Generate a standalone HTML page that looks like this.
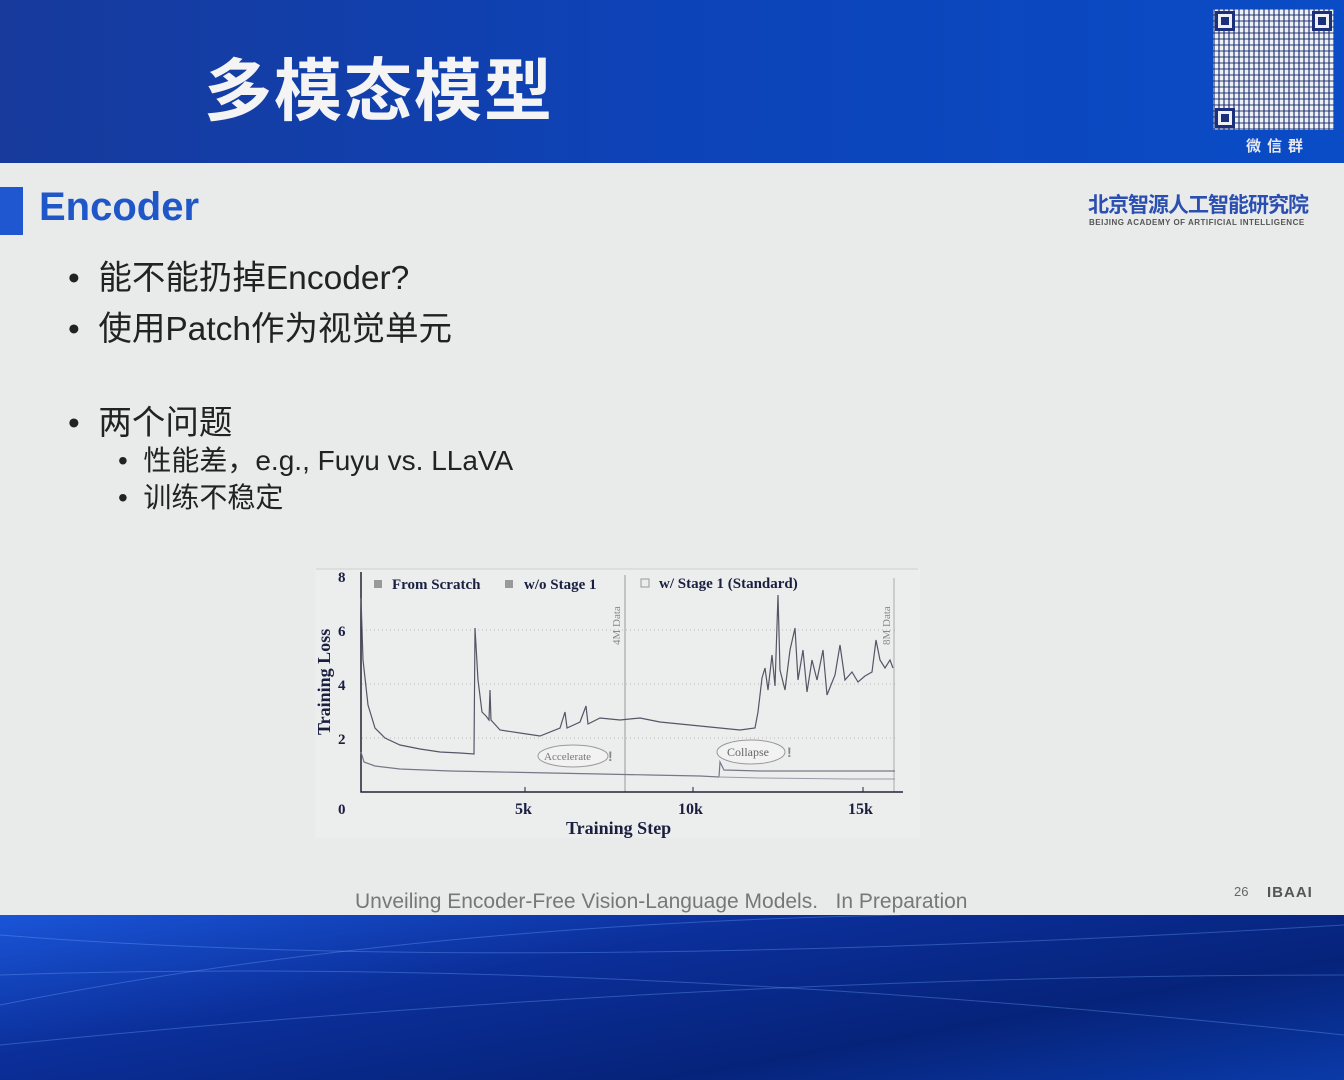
<!DOCTYPE html>
<html><head><meta charset="utf-8"><style>
*{margin:0;padding:0}
body{width:1344px;height:1080px;overflow:hidden;background:#e9ebeb;position:relative;font-family:"Liberation Sans","Noto Sans CJK SC",sans-serif}
.hdr{position:absolute;left:0;top:0;width:1344px;height:163px;background:linear-gradient(90deg,#173a9c 0%,#0d43b8 50%,#0a4cc6 100%)}
.title{position:absolute;left:204px;top:42px;font-size:68px;font-weight:bold;color:#f4f4f4;font-family:"Noto Sans CJK SC",sans-serif;letter-spacing:2px;line-height:88px}
.qr{position:absolute;left:1213px;top:9px;width:121px;height:121px;background:#eef0f2;
background-image:repeating-linear-gradient(90deg,rgba(20,40,110,.55) 0 2px,transparent 2px 5px),repeating-linear-gradient(0deg,rgba(20,40,110,.45) 0 2px,transparent 2px 6px)}
.fp{position:absolute;width:14px;height:14px;border:3px solid #1c2f7a;background:#eef0f2}
.fp i{position:absolute;left:3px;top:3px;width:8px;height:8px;background:#1c2f7a}
.bottom{position:absolute;left:0;top:915px;width:1344px;height:165px;background:linear-gradient(170deg,#1a55d8 0%,#0b2f9a 35%,#06237a 70%,#0a3aa8 100%)}
.bar{position:absolute;left:0;top:187px;width:23px;height:48px;background:#1f57d0}
.h2{position:absolute;left:39px;top:184px;font-size:40px;font-weight:bold;color:#1f57c8;line-height:46px}
.b{position:absolute;color:#222;font-family:"Liberation Sans","Noto Sans CJK SC",sans-serif}
.l1{font-size:33.5px;left:68px}
.l2{font-size:28px;left:118px}
</style></head><body>
<div class="hdr"></div>
<div class="title">多模态模型</div>
<div class="qr">
<div class="fp" style="left:2px;top:2px"><i></i></div>
<div class="fp" style="right:2px;top:2px"><i></i></div>
<div class="fp" style="left:2px;bottom:2px"><i></i></div>
</div>
<div style="position:absolute;left:1246px;top:135px;color:#e8e8f0;font-size:15px;font-weight:bold;letter-spacing:6px;font-family:'Noto Sans CJK SC',sans-serif">微信群</div>

<div class="bar"></div>
<div class="h2">Encoder</div>
<div style="position:absolute;left:1088px;top:191px;color:#2b4fb0;font-size:21px;line-height:26px;font-weight:bold;font-family:'Noto Sans CJK SC',sans-serif;letter-spacing:-1px">北京智源人工智能研究院</div>
<div style="position:absolute;left:1089px;top:218px;color:#555;font-size:8px;font-weight:bold;letter-spacing:.5px">BEIJING ACADEMY OF ARTIFICIAL INTELLIGENCE</div>

<div class="b l1" style="top:250px">•&nbsp; 能不能扔掉Encoder?</div>
<div class="b l1" style="top:301px">•&nbsp; 使用Patch作为视觉单元</div>
<div class="b l1" style="top:395px">•&nbsp; 两个问题</div>
<div class="b l2" style="top:439px">•&nbsp; 性能差，e.g., Fuyu vs. LLaVA</div>
<div class="b l2" style="top:476px">•&nbsp; 训练不稳定</div>

<svg style="position:absolute;left:310px;top:560px" width="620" height="290" viewBox="310 560 620 290">
<rect x="315" y="568" width="605" height="270" fill="#eceeee"/>
<line x1="316" y1="569" x2="918" y2="569" stroke="#ccc"/>
<g stroke="#bbb" stroke-dasharray="1 3">
<line x1="362" y1="630" x2="895" y2="630"/><line x1="362" y1="684" x2="895" y2="684"/><line x1="362" y1="738" x2="895" y2="738"/>
</g>
<line x1="625" y1="575" x2="625" y2="792" stroke="#999"/>
<line x1="894" y1="578" x2="894" y2="792" stroke="#aaa"/>
<polyline fill="none" stroke="#223" stroke-width="1.5" points="361,572 361,792 903,792"/>
<g stroke="#223"><line x1="525" y1="792" x2="525" y2="787"/><line x1="693" y1="792" x2="693" y2="787"/><line x1="863" y1="792" x2="863" y2="787"/></g>
<g font-family="Liberation Serif,serif" font-weight="bold" fill="#1a1f40">
<text x="338" y="582" font-size="15">8</text><text x="338" y="636" font-size="15">6</text><text x="338" y="690" font-size="15">4</text><text x="338" y="744" font-size="15">2</text>
<text x="338" y="814" font-size="15">0</text><text x="515" y="814" font-size="16">5k</text><text x="678" y="814" font-size="16">10k</text><text x="848" y="814" font-size="16">15k</text>
<text x="566" y="834" font-size="18">Training Step</text>
<text transform="translate(330,735) rotate(-90)" font-size="18">Training Loss</text>
<text x="392" y="589" font-size="15">From Scratch</text><text x="524" y="589" font-size="15">w/o Stage 1</text><text x="659" y="588" font-size="15">w/ Stage 1 (Standard)</text>
</g>
<g fill="#999"><rect x="374" y="580" width="8" height="8"/><rect x="505" y="580" width="8" height="8"/><rect x="641" y="579" width="8" height="8" fill="none" stroke="#999"/></g>
<g font-family="Liberation Serif,serif" fill="#888" font-size="11"><text transform="translate(620,645) rotate(-90)">4M Data</text><text transform="translate(890,645) rotate(-90)">8M Data</text></g>
<polyline fill="none" stroke="#556" stroke-width="1.2" points="361,598 363,660 368,705 375,728 385,738 400,745 420,749 440,752 460,753 474,754 475,628 478,680 482,712 486,716 489,720 490,690 491,720 500,730 520,733 540,736 560,728 565,712 567,728 580,722 586,706 588,724 600,718 620,720 640,718 660,722 680,724 700,726 720,728 740,730 755,728 758,712 762,678 765,668 768,690 772,655 775,686 778,595 780,670 785,690 790,650 795,628 798,680 803,650 807,692 812,660 817,680 823,650 827,695 835,675 840,645 845,680 852,672 858,682 865,676 872,672 876,640 880,660 885,668 890,660 893,668"/>
<polyline fill="none" stroke="#778" stroke-width="1.2" points="361,752 364,762 375,766 400,769 450,771 500,772 550,773 600,774 650,775 700,776 719,777 720,762 724,770 760,771 800,771 850,771 895,771"/>
<polyline fill="none" stroke="#99a" stroke-width="1" points="720,777 760,778 850,779 895,779"/>
<ellipse cx="573" cy="756" rx="35" ry="11" fill="#f2f2f2" stroke="#999"/>
<text x="544" y="760" font-family="Liberation Serif,serif" font-size="11" fill="#777">Accelerate</text>
<text x="608" y="761" font-family="Liberation Sans" font-weight="bold" font-size="14" fill="#888">!</text>
<ellipse cx="751" cy="752" rx="34" ry="12" fill="#f2f2f2" stroke="#999"/>
<text x="727" y="756" font-family="Liberation Serif,serif" font-size="12" fill="#666">Collapse</text>
<text x="787" y="757" font-family="Liberation Sans" font-weight="bold" font-size="14" fill="#888">!</text>
</svg>

<div style="position:absolute;left:355px;top:890px;color:#777;font-size:21px">Unveiling Encoder-Free Vision-Language Models.&nbsp;&nbsp; In Preparation</div>
<div style="position:absolute;left:1234px;top:884px;color:#666;font-size:13px">26</div>
<div style="position:absolute;left:1267px;top:884px;color:#555;font-size:15px;font-weight:bold;letter-spacing:1px">IBAAI</div>
<div class="bottom"></div>
<svg style="position:absolute;left:0;top:915px" width="1344" height="165">
<g stroke="#6fa8ff" stroke-opacity=".35" fill="none">
<path d="M0 20 Q500 60 1344 10"/><path d="M0 60 Q600 40 1344 120"/><path d="M0 90 Q400 10 900 0"/><path d="M0 130 Q700 60 1344 60"/>
</g></svg>
</body></html>
